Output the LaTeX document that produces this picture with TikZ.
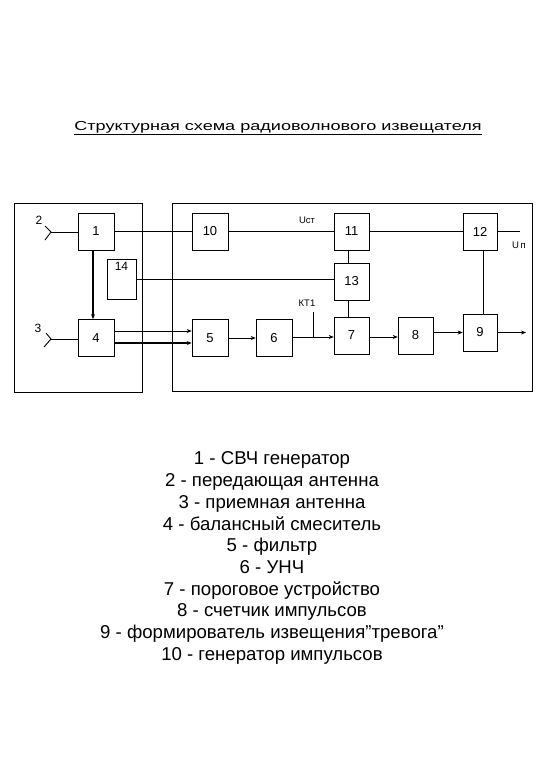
\documentclass[tikz,border=0pt]{standalone}
\usepackage{fontspec}
\setmainfont{Liberation Sans}
\usetikzlibrary{arrows.meta}

\begin{document}
\begin{tikzpicture}[x=1pt,y=-1pt,
  blk/.style={draw, minimum width=36, minimum height=37, inner sep=0pt, font=\fontsize{13}{15}\selectfont},
  small/.style={font=\fontsize{9.5}{11}\selectfont},
  arr/.style={-{Stealth[length=5pt,width=4pt]}},
  line width=0.6pt]
\useasboundingbox (0,0) rectangle (540,780);
% title
\node (title) at (278,128) {\scalebox{1.39}[1]{\fontsize{13}{15}\selectfont\underline{Структурная схема радиоволнового извещателя}}};
% frames
\draw (14,203) rectangle (142,392);
\draw (172,203) rectangle (532,391);
% blocks
\node [blk] (1) at (96,231.5) {1};
\node [blk, minimum width=29, minimum height=40, label={[font=\fontsize{12}{14}\selectfont, below=0pt]north:14}] (14) at (121.5,279) {};
\node [blk] (4) at (96,338) {4};
\node [blk] (10) at (210,231.5) {10};
\node [blk] (5) at (210,338) {5};
\node [blk] (6) at (274,338) {6};
\node [blk, minimum width=35] (11) at (351.5,231.5) {11};
\node [blk, minimum width=35] (13) at (351.5,281.5) {13};
\node [blk, minimum width=35] (7) at (351.5,335.5) {7};
\node [blk, minimum width=35] (8) at (415.5,335.5) {8};
\node [blk, minimum width=34] (12) at (480,231.5) {12};
\node [blk, minimum width=34] (9) at (480,332.5) {9};
% antennas
\coordinate (ant2) at (51,232);
\coordinate (ant3) at (51,339);
\draw [line width=0.9pt] (45,226) -- (ant2) -- (45,240);
\draw [line width=0.9pt] (46,333) -- (ant3) -- (44,347);
\node [font=\fontsize{12}{14}\selectfont] (lab2) at (39,220) {2};
\node [font=\fontsize{12}{14}\selectfont] (lab3) at (38,328) {3};
\draw (ant2) -- (ant2 -| 1.west);
\draw (ant3) -- (ant3 -| 4.west);
% connections
\draw [arr, line width=1.6pt] ([xshift=-3]1.south) -- ([xshift=-3]4.north);
\draw (1) -- (10);
\draw (10) -- (11);
\draw (11) -- (12);
\draw (14.east) -- (14.east -| 13.west);
\draw [arr] ([yshift=7]4.east) -- ([yshift=7]4.east -| 5.west);
\draw [arr, line width=1.6pt] ([yshift=-5]4.east) -- ([yshift=-5]4.east -| 5.west);
\draw [arr] (5) -- (6);
\draw [arr] ([yshift=1]6.east) -- ([yshift=1]6.east -| 7.west);
\draw [arr] ([yshift=-1.5]7.east) -- ([yshift=-1.5]7.east -| 8.west);
\draw [arr] (9.west -| 8.east) -- (9.west);
\draw ([xshift=-3.5]11.south) -- ([xshift=-3.5]13.north);
\draw ([xshift=-3.5]13.south) -- ([xshift=-3.5]7.north);
\draw ([xshift=3]9.north) -- ([xshift=3]12.south);
\coordinate (kt) at (313,337);
\draw (kt) -- ++(0,-25);
\coordinate (un) at (520,231.5);
\draw (12.east) -- (un);
\coordinate (out) at (526,332.5);
\draw [arr] (9) -- (out);
% labels
\node [small] (ust) at (307,220) {Uст};
\node [small] (ktlab) at (307,303) {КТ1};
\node [small] (unlab) at (519,245) {U\,п};
% legend
\node [align=center, font=\fontsize{18.6}{21.7}\selectfont] (legend) at (272,558) {
1 - СВЧ генератор\\
2 - передающая антенна\\
3 - приемная антенна\\
4 - балансный смеситель\\
5 - фильтр\\
6 - УНЧ\\
7 - пороговое устройство\\
8 - счетчик импульсов\\
9 - формирователь извещения”тревога”\\
10 - генератор импульсов};
\end{tikzpicture}
\end{document}
